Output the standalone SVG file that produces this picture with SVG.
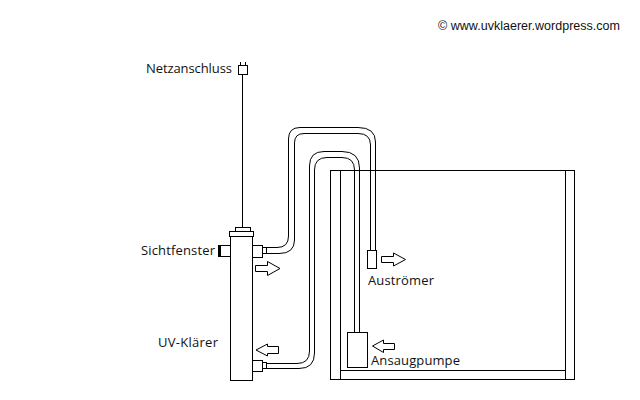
<svg xmlns="http://www.w3.org/2000/svg" width="640" height="400" viewBox="0 0 640 400">
<style>
.s{fill:none;stroke:#000;stroke-width:1}
.c{fill:none;stroke:#000;stroke-width:1;shape-rendering:crispEdges}
.w{fill:#fff;stroke:#000;stroke-width:1;shape-rendering:crispEdges}
text{font-family:"Open Sans","Liberation Sans",sans-serif;font-size:13px;fill:#111}
</style>
<rect width="640" height="400" fill="#fff"/>
<g id="tank" class="c">
<path d="M330.500 170.500H574.500V379.500H330.500Z"/>
<path d="M340.500 170.500V379.500M565.500 170.500V379.500M340.500 370.500H565.500"/>
</g>
<g id="connectors" class="s">
<path class="c" d="M242.500 74V227"/>
<path d="M267 247.500H277Q288.500 247.500 288.500 236V139Q288.500 127.500 300 127.500H358Q375.500 127.500 375.500 142V250"/>
<path d="M267 253.500H279Q294.500 253.500 294.500 240V143Q294.500 133.500 304 133.500H358Q370.500 133.500 370.500 145V250"/>
<path d="M266 363.500H297Q309.500 363.500 309.500 351V166Q309.500 151.500 324 151.500H342Q359.500 151.500 359.500 168V332"/>
<path d="M266 368.500H299Q314.500 368.500 314.500 353V170Q314.500 157.500 327 157.500H342Q354.500 157.500 354.500 170V332"/>
</g>
<g id="netzanschluss">
<path class="c" d="M240.500 62V66M245.500 62V66"/>
<rect class="w" x="238.500" y="65.500" width="9" height="9"/>
<text x="146" y="73" textLength="86">Netzanschluss</text>
</g>
<g id="uv-klaerer">
<rect class="w" x="235.500" y="227.500" width="15" height="4"/>
<rect class="w" x="229.500" y="231.500" width="24" height="5"/>
<rect class="w" x="230.500" y="236.500" width="22" height="144"/>
<rect class="w" x="220.500" y="245.500" width="10" height="11"/>
<rect x="218" y="245" width="3" height="12" fill="#000"/>
<rect class="w" x="252.500" y="245.500" width="10" height="12"/>
<rect class="w" x="262.500" y="247.500" width="4" height="6"/>
<rect class="w" x="252.500" y="360.500" width="10" height="11"/>
<rect class="w" x="262.500" y="362.500" width="4" height="6"/>
<text x="141" y="255" textLength="74">Sichtfenster</text>
<text x="158" y="347" textLength="60">UV-Klärer</text>
<path class="s" d="M255.500 265.500H267.500V261.500L280 268.500L267.500 275.500V271.500H255.500Z"/>
<path class="s" d="M278.500 346.500H267.500V344L256 350L267.500 356V353.500H278.500Z"/>
</g>
<g id="austroemer">
<rect class="w" x="367.500" y="250.500" width="9" height="18"/>
<path class="s" d="M381.500 256.500H393.500V253L405.500 259.500L393.500 266V262.500H381.500Z"/>
<text x="368" y="285" textLength="66">Auströmer</text>
</g>
<g id="ansaugpumpe">
<rect class="w" x="347.500" y="332.500" width="20" height="35"/>
<path class="s" d="M394.500 343.500H383.500V340L372.500 346L383.500 352.500V349.500H394.500Z"/>
<text x="371" y="365" textLength="89">Ansaugpumpe</text>
</g>
<text id="copyright" x="438" y="30" textLength="182" style="font-family:'Liberation Sans',sans-serif;font-size:12.5px">© www.uvklaerer.wordpress.com</text>
</svg>
